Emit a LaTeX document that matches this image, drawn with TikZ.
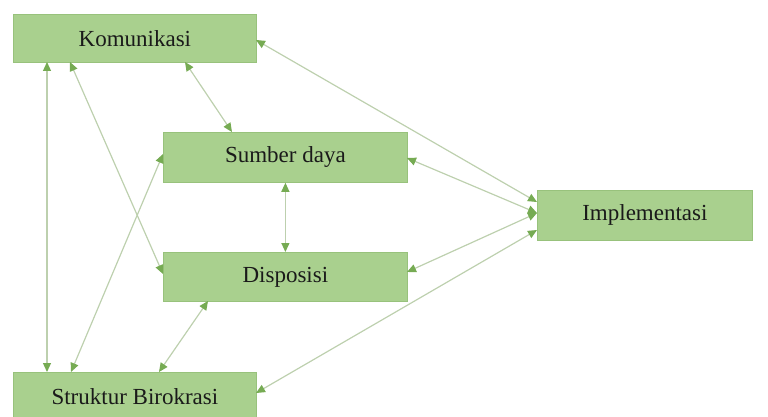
\documentclass[tikz,border=0pt]{standalone}
\usepackage{fontspec}
\setmainfont{Liberation Serif}
\usetikzlibrary{arrows.meta,calc}
\definecolor{boxfill}{HTML}{A9D08E}
\definecolor{boxline}{HTML}{98C27C}
\definecolor{linkcol}{HTML}{BDD0AE}
\definecolor{headcol}{HTML}{76AB53}
\definecolor{txt}{HTML}{1A1A1A}
\tikzset{
  box/.style={draw=boxline, line width=0.8pt, fill=boxfill, anchor=north west, inner sep=0pt,
    font=\fontsize{23}{25}\selectfont, text=txt},
  link/.style={draw=linkcol, line width=1.2pt,
    {Triangle[length=9pt,width=8pt,color=headcol]}-{Triangle[length=9pt,width=8pt,color=headcol]}},
}
\begin{document}
\begin{tikzpicture}[x=1pt,y=-1pt]
\useasboundingbox (0,0) rectangle (768,417);
\begin{scope}
\clip (0,0) rectangle (768,417);
\node[box, minimum width=243pt, minimum height=48pt] (kom) at (13,14) {Komunikasi};
\node[box, minimum width=244pt, minimum height=50pt] (sum) at (163,132) {Sumber daya};
\node[box, minimum width=244pt, minimum height=49pt] (dis) at (163,252) {Disposisi};
\node[box, minimum width=243pt, minimum height=48pt] (str) at (13,372) {Struktur Birokrasi};
\node[box, minimum width=215pt, minimum height=50pt] (imp) at (537,190) {Implementasi};

\draw[link] ($(kom.north west)+(243,26)$) -- ($(imp.north west)+(0,12)$);
\draw[link] ($(kom.north west)+(172,48)$) -- ($(sum.north west)+(69,0)$);
\draw[link] ($(kom.north west)+(57,48)$) -- ($(dis.north west)+(0,22)$);
\draw[link] ($(kom.north west)+(34,48)$) -- ($(str.north west)+(34,0)$);
\draw[link] (sum.south) -- (dis.north);
\draw[link] ($(sum.north west)+(0,22)$) -- ($(str.north west)+(58,0)$);
\draw[link] ($(dis.north west)+(45,49)$) -- ($(str.north west)+(146,0)$);
\draw[link] ($(sum.north west)+(244,26)$) -- ($(imp.north west)+(0,23)$);
\draw[link] ($(dis.north west)+(244,20)$) -- ($(imp.north west)+(0,23)$);
\draw[link] ($(str.north west)+(243,21)$) -- ($(imp.north west)+(0,40)$);
\end{scope}
\end{tikzpicture}
\end{document}
